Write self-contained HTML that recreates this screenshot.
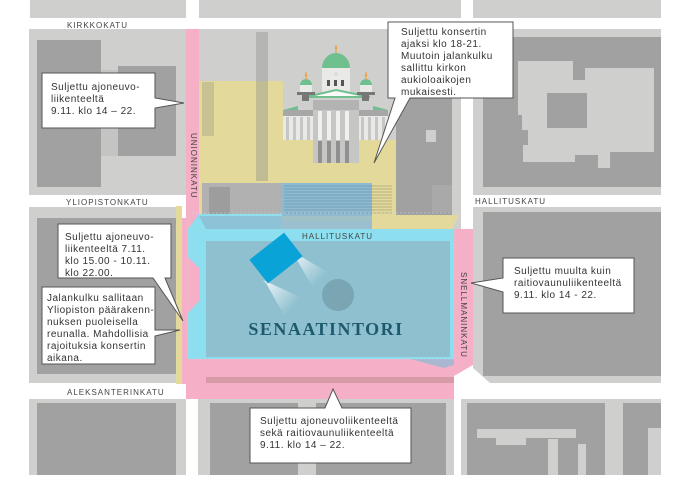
<!DOCTYPE html>
<html><head><meta charset="utf-8"><style>
html,body{margin:0;padding:0;background:#fff;}
svg{display:block;}
text{font-family:"Liberation Sans",sans-serif;}
.lbl{font-size:8px;fill:#444;letter-spacing:1px;}
.co{font-size:10px;fill:#333;letter-spacing:0.5px;}
</style></head><body>
<svg width="696" height="492" viewBox="0 0 696 492" xmlns="http://www.w3.org/2000/svg">
<rect width="696" height="492" fill="#fff"/>
<rect x="30" y="0" width="156" height="18" fill="#cfd0ce"/>
<rect x="199" y="0" width="262" height="18" fill="#cfd0ce"/>
<rect x="473" y="0" width="188" height="18" fill="#cfd0ce"/>
<text x="67" y="28" class="lbl">KIRKKOKATU</text>
<rect x="29" y="29" width="157" height="166" fill="#cfd0ce"/>
<rect x="37" y="40" width="64" height="147" fill="#a0a1a0"/>
<rect x="101" y="70" width="17" height="86" fill="#c4c5c3"/>
<rect x="118" y="66" width="58" height="90" fill="#a0a1a0"/>
<rect x="473" y="29" width="188" height="166" fill="#cfd0ce"/>
<rect x="483" y="37" width="178" height="150" fill="#a0a1a0"/>
<path d="M518 61 L573 61 L573 80 L585 80 L585 68 L654 68 L654 152 L610 152 L610 168 L598 168 L598 155 L575 155 L575 162 L523 162 L523 145 L528 145 L528 130 L522 130 L522 115 L518 115 Z" fill="#cfd0ce"/>
<rect x="547" y="93" width="40" height="35" fill="#a0a1a0"/>
<text x="66" y="205" class="lbl">YLIOPISTONKATU</text>
<text x="475" y="204" class="lbl">HALLITUSKATU</text>
<rect x="199" y="29" width="262" height="200" fill="#cfd0ce"/>
<rect x="199" y="81" width="84" height="140" fill="#e3d99a"/>
<rect x="283" y="140" width="113" height="81" fill="#e3d99a"/>
<rect x="396" y="95" width="56" height="122" fill="#a0a1a0"/>
<rect x="426" y="130" width="10" height="12" fill="#cfd0ce"/>
<rect x="432" y="185" width="20" height="27" fill="#a8a9a8"/>
<path d="M372 215 L459 215 L452 229 L372 229 Z" fill="#e3d99a"/>
<g stroke="#a09e88" stroke-width="0.8">
<line x1="203" y1="82" x2="203" y2="136"/><line x1="205" y1="82" x2="205" y2="136"/><line x1="207" y1="82" x2="207" y2="136"/><line x1="209" y1="82" x2="209" y2="136"/><line x1="211" y1="82" x2="211" y2="136"/><line x1="213" y1="82" x2="213" y2="136"/>
</g>
<g stroke="#8e8f8c" stroke-width="0.8">
<line x1="257" y1="32" x2="257" y2="181"/><line x1="259" y1="32" x2="259" y2="181"/><line x1="261" y1="32" x2="261" y2="181"/><line x1="263" y1="32" x2="263" y2="181"/><line x1="265" y1="32" x2="265" y2="181"/><line x1="267" y1="32" x2="267" y2="181"/>
</g>
<rect x="283" y="110" width="105" height="30" fill="#e9e9e7"/>
<rect x="283" y="110" width="105" height="6" fill="#a6a7a6"/>
<g fill="#c6c7c5"><rect x="286" y="117" width="3" height="23"/><rect x="293" y="117" width="3" height="23"/><rect x="300" y="117" width="3" height="23"/><rect x="307" y="117" width="3" height="23"/><rect x="361" y="117" width="3" height="23"/><rect x="368" y="117" width="3" height="23"/><rect x="375" y="117" width="3" height="23"/><rect x="382" y="117" width="3" height="23"/></g>
<path d="M283 110 L298 106 L298 110 Z M388 110 L373 106 L373 110Z" fill="#6fbf8f"/>
<rect x="313" y="100" width="46" height="63" fill="#c6c7c5"/>
<rect x="313" y="100" width="46" height="10" fill="#b2b3b2"/>
<g fill="#f0f0ee"><rect x="318" y="111" width="4" height="29"/><rect x="327" y="111" width="4" height="29"/><rect x="336" y="111" width="4" height="29"/><rect x="345" y="111" width="4" height="29"/></g>
<g fill="#8f908f"><rect x="318" y="141" width="4" height="22"/><rect x="327" y="141" width="4" height="22"/><rect x="336" y="141" width="4" height="22"/><rect x="345" y="141" width="4" height="22"/></g>
<rect x="322" y="68" width="28" height="26" fill="#e9e9e7"/>
<path d="M322 68 A14 15 0 0 1 350 68 Z" fill="#6fbf8f"/>
<g fill="#555"><rect x="327" y="80" width="3" height="6"/><rect x="334" y="80" width="3" height="6"/><rect x="341" y="80" width="3" height="6"/></g>
<circle cx="336" cy="74" r="2" fill="#ddd"/>
<line x1="336" y1="45" x2="336" y2="53" stroke="#f0a040" stroke-width="1.2"/><circle cx="336" cy="48" r="1.3" fill="#f0a040"/>
<path d="M306 97 L336 90 L370 97 Z" fill="#fafaf8" stroke="#6fbf8f" stroke-width="2"/>
<g>
<rect x="300" y="85" width="12" height="8" fill="#e9e9e7"/><path d="M300 85 A6 6 0 0 1 312 85Z" fill="#6fbf8f"/><rect x="297" y="92" width="18" height="3" fill="#777"/><rect x="302" y="95" width="7" height="6" fill="#777"/>
<line x1="306" y1="72" x2="306" y2="80" stroke="#f0a040" stroke-width="1.2"/><circle cx="306" cy="75" r="1.3" fill="#f0a040"/>
<rect x="360" y="85" width="12" height="8" fill="#e9e9e7"/><path d="M360 85 A6 6 0 0 1 372 85Z" fill="#6fbf8f"/><rect x="357" y="92" width="18" height="3" fill="#777"/><rect x="362" y="95" width="7" height="6" fill="#777"/>
<line x1="366" y1="72" x2="366" y2="80" stroke="#f0a040" stroke-width="1.2"/><circle cx="366" cy="75" r="1.3" fill="#f0a040"/>
</g>
<rect x="202" y="183" width="80" height="34" fill="#b0b1b0"/>
<rect x="209" y="187" width="21" height="27" fill="#9c9d9c"/>
<rect x="282" y="183" width="90" height="33" fill="#8fbad0"/>
<g stroke="#6a9ab2" stroke-width="0.8">
<line x1="284" y1="186" x2="372" y2="186"/><line x1="284" y1="189" x2="372" y2="189"/><line x1="284" y1="192" x2="372" y2="192"/><line x1="284" y1="195" x2="372" y2="195"/><line x1="284" y1="198" x2="372" y2="198"/><line x1="284" y1="201" x2="372" y2="201"/><line x1="284" y1="204" x2="372" y2="204"/><line x1="284" y1="207" x2="372" y2="207"/><line x1="284" y1="210" x2="372" y2="210"/><line x1="284" y1="213" x2="372" y2="213"/>
</g>
<g stroke="#a8a27a" stroke-width="0.8">
<line x1="372" y1="186" x2="392" y2="186"/><line x1="372" y1="189" x2="392" y2="189"/><line x1="372" y1="192" x2="392" y2="192"/><line x1="372" y1="195" x2="392" y2="195"/><line x1="372" y1="198" x2="392" y2="198"/><line x1="372" y1="201" x2="392" y2="201"/><line x1="372" y1="204" x2="392" y2="204"/><line x1="372" y1="207" x2="392" y2="207"/><line x1="372" y1="210" x2="392" y2="210"/><line x1="372" y1="213" x2="392" y2="213"/>
</g>
<rect x="186" y="29" width="13" height="186" fill="#f5b0c8"/>
<text transform="translate(191,133) rotate(90)" class="lbl">UNIONINKATU</text>
<rect x="29" y="207" width="147" height="176" fill="#cfd0ce"/>
<rect x="37" y="218" width="139" height="156" fill="#a0a1a0"/>
<rect x="176" y="206" width="6" height="178" fill="#e3d99a"/>
<rect x="182" y="218" width="4" height="166" fill="#f5b0c8"/>
<path d="M473 207 L661 207 L661 383 L490 383 L473 368 Z" fill="#cfd0ce"/>
<rect x="483" y="212" width="178" height="164" fill="#a0a1a0"/>
<path d="M186 215 L199 203 L199 229 L473 229 L473 365 L454 376 L454 399 L186 399 Z" fill="#f5b0c8"/>
<rect x="206" y="377" width="248" height="6" fill="#d99aa8"/>
<path d="M188 229 L199 214 L282 214 L282 229 L454 229 L454 359 L188 359 Z" fill="#8ddff0"/>
<path d="M188 257 L199 268 L199 301 L188 313 Z" fill="#f5b0c8"/>
<path d="M206 241 L450 241 L450 357 L206 357 Z" fill="#8fc0d0"/>
<path d="M199 216 L372 216 L372 229 L206 229 Z" fill="#8fbad0" opacity="0.8"/>
<path d="M410 359 L454 359 L454 365 L444 368 Z" fill="#a9b8d0"/>
<rect x="188" y="213" width="266" height="146" fill="none" stroke="#c8d8e0" stroke-width="0.6" stroke-dasharray="2,2"/>
<text x="302" y="239" class="lbl" fill="#456">HALLITUSKATU</text>
<text transform="translate(461,272) rotate(90)" class="lbl">SNELLMANINKATU</text>
<defs>
<linearGradient id="lg1" gradientUnits="userSpaceOnUse" x1="292" y1="252" x2="320" y2="280"><stop offset="0" stop-color="#fff" stop-opacity="0.85"/><stop offset="1" stop-color="#fff" stop-opacity="0"/></linearGradient>
<linearGradient id="lg2" gradientUnits="userSpaceOnUse" x1="264" y1="281" x2="293" y2="307"><stop offset="0" stop-color="#fff" stop-opacity="0.85"/><stop offset="1" stop-color="#fff" stop-opacity="0"/></linearGradient>
</defs>
<path d="M290 250 L293 253 L313 288 L327 272 Z" fill="url(#lg1)"/>
<path d="M263 280 L266 283 L285 317 L300 297 Z" fill="url(#lg2)"/>
<g transform="translate(276,258) rotate(-38)"><rect x="-22" y="-15" width="44" height="30" fill="#0aa3d8"/></g>
<circle cx="338" cy="295" r="16" fill="#7aa5b3"/>
<text x="326" y="335" text-anchor="middle" style="font-family:'Liberation Serif',serif;font-weight:bold;font-size:18px;letter-spacing:1.5px;fill:#1e5a6e;">SENAATINTORI</text>
<text x="67" y="395" class="lbl">ALEKSANTERINKATU</text>
<rect x="29" y="399" width="157" height="76" fill="#cfd0ce"/>
<rect x="37" y="403" width="139" height="72" fill="#a0a1a0"/>
<rect x="198" y="399" width="256" height="76" fill="#cfd0ce"/>
<rect x="210" y="403" width="88" height="72" fill="#a0a1a0"/>
<rect x="316" y="403" width="130" height="72" fill="#a0a1a0"/>
<rect x="461" y="399" width="200" height="76" fill="#cfd0ce"/>
<rect x="467" y="403" width="138" height="72" fill="#a0a1a0"/>
<rect x="623" y="403" width="38" height="72" fill="#a0a1a0"/>
<rect x="477" y="429" width="99" height="9" fill="#cfd0ce"/><rect x="496" y="429" width="30" height="16" fill="#cfd0ce"/>
<rect x="548" y="439" width="10" height="36" fill="#cfd0ce"/><rect x="578" y="444" width="8" height="31" fill="#cfd0ce"/>
<rect x="648" y="428" width="13" height="47" fill="#cfd0ce"/>
<g fill="#fff" stroke="#555" stroke-width="1">
<path d="M42 73 L155 73 L155 98 L184 103 L155 108 L155 128 L42 128 Z"/>
<path d="M388 22 L513 22 L513 98 L410 98 L374 163 L395 98 L388 98 Z"/>
<path d="M503 258 L634 258 L634 313 L503 313 L503 292 L471 283 L503 278 Z"/>
<path d="M250 408 L325 408 L333 389 L342 408 L411 408 L411 463 L250 463 Z"/>
<path d="M58 224 L171 224 L171 278 L165 278 L183 321 L153 278 L58 278 Z"/>
<path d="M42 287 L155 287 L155 330 L180 330 L155 336 L155 364 L42 364 Z"/>
</g>
<text class="co"><tspan x="51" y="90">Suljettu ajoneuvo-</tspan><tspan x="51" y="102">liikenteeltä</tspan><tspan x="51" y="114">9.11. klo 14 – 22.</tspan></text>
<text class="co"><tspan x="401" y="35">Suljettu konsertin</tspan><tspan x="401" y="47">ajaksi klo 18-21.</tspan><tspan x="401" y="59">Muutoin jalankulku</tspan><tspan x="401" y="71">sallittu kirkon</tspan><tspan x="401" y="83">aukioloaikojen</tspan><tspan x="401" y="95">mukaisesti.</tspan></text>
<text class="co"><tspan x="514" y="274">Suljettu muulta kuin</tspan><tspan x="514" y="286">raitiovaunuliikenteeltä</tspan><tspan x="514" y="298">9.11. klo 14 - 22.</tspan></text>
<text class="co"><tspan x="260" y="424">Suljettu ajoneuvoliikenteeltä</tspan><tspan x="260" y="436">sekä raitiovaunuliikenteeltä</tspan><tspan x="260" y="448">9.11. klo 14 – 22.</tspan></text>
<text class="co"><tspan x="65" y="240">Suljettu ajoneuvo-</tspan><tspan x="65" y="252">liikenteeltä 7.11.</tspan><tspan x="65" y="264">klo 15.00 - 10.11.</tspan><tspan x="65" y="276">klo 22.00.</tspan></text>
<text class="co"><tspan x="47" y="301">Jalankulku sallitaan</tspan><tspan x="47" y="313">Yliopiston päärakenn-</tspan><tspan x="47" y="325">nuksen puoleisella</tspan><tspan x="47" y="337">reunalla. Mahdollisia</tspan><tspan x="47" y="349">rajoituksia konsertin</tspan><tspan x="47" y="361">aikana.</tspan></text>
</svg>
</body></html>
